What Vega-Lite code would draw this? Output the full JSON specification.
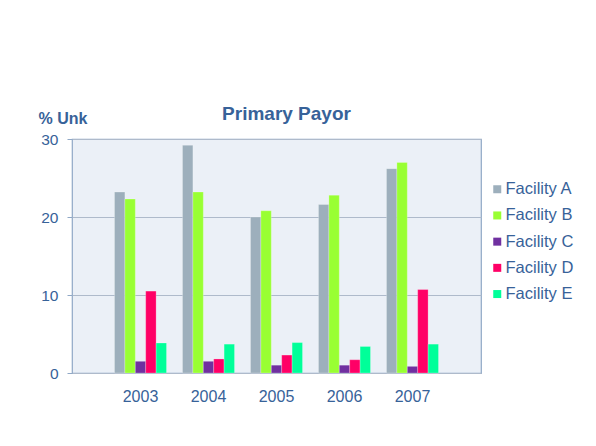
{
  "$schema": "https://vega.github.io/schema/vega-lite/v6.json",
  "autosize": "none",
  "width": 409,
  "height": 234,
  "padding": {"left": 72, "top": 139, "right": 115, "bottom": 73},
  "background": "white",
  "title": {
    "text": "Primary Payor",
    "anchor": "middle",
    "dx": 10,
    "dy": 34,
    "offset": 20,
    "font": "Liberation Sans",
    "fontSize": 19,
    "fontWeight": "bold",
    "color": "#376299"
  },
  "data": {
    "values": [
      {"year": "2003", "facility": "Facility A", "value": 23.2},
      {"year": "2003", "facility": "Facility B", "value": 22.3},
      {"year": "2003", "facility": "Facility C", "value": 1.5},
      {"year": "2003", "facility": "Facility D", "value": 10.5},
      {"year": "2003", "facility": "Facility E", "value": 3.85},
      {"year": "2004", "facility": "Facility A", "value": 29.2},
      {"year": "2004", "facility": "Facility B", "value": 23.2},
      {"year": "2004", "facility": "Facility C", "value": 1.5},
      {"year": "2004", "facility": "Facility D", "value": 1.8},
      {"year": "2004", "facility": "Facility E", "value": 3.7},
      {"year": "2005", "facility": "Facility A", "value": 20.0},
      {"year": "2005", "facility": "Facility B", "value": 20.8},
      {"year": "2005", "facility": "Facility C", "value": 1.0},
      {"year": "2005", "facility": "Facility D", "value": 2.3},
      {"year": "2005", "facility": "Facility E", "value": 3.9},
      {"year": "2006", "facility": "Facility A", "value": 21.6},
      {"year": "2006", "facility": "Facility B", "value": 22.8},
      {"year": "2006", "facility": "Facility C", "value": 1.0},
      {"year": "2006", "facility": "Facility D", "value": 1.7},
      {"year": "2006", "facility": "Facility E", "value": 3.4},
      {"year": "2007", "facility": "Facility A", "value": 26.2},
      {"year": "2007", "facility": "Facility B", "value": 27.0},
      {"year": "2007", "facility": "Facility C", "value": 0.85},
      {"year": "2007", "facility": "Facility D", "value": 10.7},
      {"year": "2007", "facility": "Facility E", "value": 3.7}
    ]
  },
  "mark": {"type": "bar", "stroke": "#ffffff", "strokeWidth": 0.4, "strokeOpacity": 0.6},
  "encoding": {
    "x": {
      "field": "year",
      "type": "nominal",
      "scale": {"paddingInner": 0.235, "paddingOuter": 0.625},
      "axis": {
        "title": null,
        "labelAngle": 0,
        "ticks": false,
        "domain": false,
        "labelPadding": 15,
        "labelFont": "Liberation Sans",
        "labelFontSize": 16,
        "labelColor": "#376299"
      }
    },
    "xOffset": {
      "field": "facility",
      "type": "nominal",
      "scale": {"paddingInner": 0, "paddingOuter": 0}
    },
    "y": {
      "field": "value",
      "type": "quantitative",
      "scale": {"domain": [0, 30], "nice": false},
      "axis": {
        "title": "% Unk",
        "titleAngle": 0,
        "titleAlign": "left",
        "titleBaseline": "alphabetic",
        "titleX": -34,
        "titleY": -16,
        "titleFont": "Liberation Sans",
        "titleFontSize": 16,
        "titleFontWeight": "bold",
        "titleColor": "#376299",
        "values": [0, 10, 20, 30],
        "domain": false,
        "tickSize": 5,
        "tickColor": "#90A8C6",
        "labelPadding": 9,
        "labelFont": "Liberation Sans",
        "labelFontSize": 15.5,
        "labelColor": "#376299",
        "gridColor": "#AEBACB",
        "gridWidth": 1
      }
    },
    "color": {
      "field": "facility",
      "type": "nominal",
      "scale": {
        "domain": ["Facility A", "Facility B", "Facility C", "Facility D", "Facility E"],
        "range": ["#9DAFBC", "#99FF33", "#7030A0", "#FF0066", "#00FF99"]
      },
      "legend": {
        "title": null,
        "orient": "none",
        "legendX": 417,
        "legendY": 42,
        "symbolType": "square",
        "symbolSize": 64,
        "symbolStrokeWidth": 0,
        "labelOffset": 0,
        "labelFont": "Liberation Sans",
        "labelFontSize": 16.5,
        "labelColor": "#376299",
        "rowPadding": 9.2
      }
    }
  },
  "config": {
    "view": {"fill": "#EBF0F7", "stroke": "#90A8C6", "strokeWidth": 1.2}
  }
}
